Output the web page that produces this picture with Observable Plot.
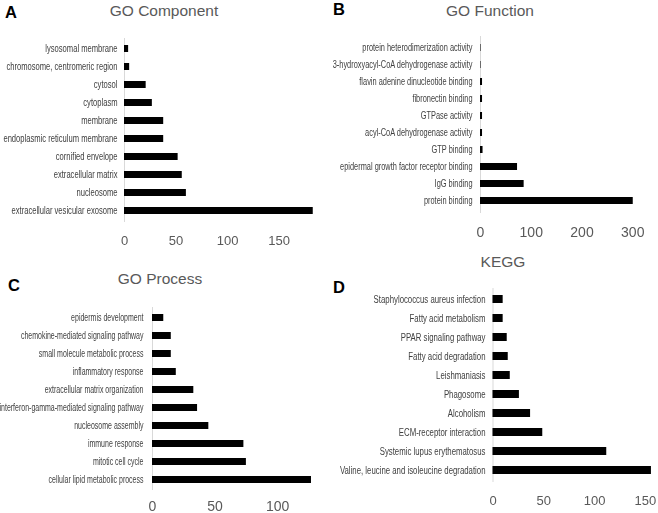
<!DOCTYPE html>
<html>
<head>
<meta charset="utf-8">
<script src="https://cdn.jsdelivr.net/npm/d3@7"></script>
<script src="https://cdn.jsdelivr.net/npm/@observablehq/plot@0.6"></script>
<style>
  html, body { margin: 0; padding: 0; background: #fff; }
  #wrap { position: relative; width: 658px; height: 513px; overflow: hidden; background: #fff; font-family: "Liberation Sans", Arial, sans-serif; }
  .panel { position: absolute; }
  .panel svg { filter: grayscale(1); }
  .title { position: absolute; transform: translateX(-50%); font-size: 15.5px; line-height: 15.5px; color: #595959; white-space: nowrap; }
  .letter { position: absolute; font-size: 16.5px; line-height: 16.5px; font-weight: bold; color: #000; }
</style>
</head>
<body>
<div id="wrap"></div>
<script>
// ---- Data ----
const titles = ["GO Component", "GO Function", "GO Process", "KEGG"];
const letters = ["A", "B", "C", "D"];

const catsA = ["lysosomal membrane", "chromosome, centromeric region", "cytosol", "cytoplasm", "membrane",
  "endoplasmic reticulum membrane", "cornified envelope", "extracellular matrix", "nucleosome", "extracellular vesicular exosome"];
const valsA = [4, 5, 21, 27, 38, 38, 52, 56, 60, 183];
const ticksA = [0, 50, 100, 150];

const catsB = ["protein heterodimerization activity", "3-hydroxyacyl-CoA dehydrogenase activity", "flavin adenine dinucleotide binding",
  "fibronectin binding", "GTPase activity", "acyl-CoA dehydrogenase activity", "GTP binding",
  "epidermal growth factor receptor binding", "IgG binding", "protein binding"];
const valsB = [1, 1, 4, 4, 4, 4, 5, 73, 86, 301];
const ticksB = [0, 100, 200, 300];

const catsC = ["epidermis development", "chemokine-mediated signaling pathway", "small molecule metabolic process",
  "inflammatory response", "extracellular matrix organization", "interferon-gamma-mediated signaling pathway",
  "nucleosome assembly", "immune response", "mitotic cell cycle", "cellular lipid metabolic process"];
const valsC = [9, 15, 15, 19, 33, 36, 45, 73, 75, 127];
const ticksC = [0, 50, 100];

const catsD = ["Staphylococcus aureus infection", "Fatty acid metabolism", "PPAR signaling pathway", "Fatty acid degradation",
  "Leishmaniasis", "Phagosome", "Alcoholism", "ECM-receptor interaction", "Systemic lupus erythematosus",
  "Valine, leucine and isoleucine degradation"];
const valsD = [10, 10, 14, 15, 17, 26, 37, 49, 112, 156];
const ticksD = [0, 50, 100, 150];

// ---- Layout ----
const panels = [
  {cats: catsA, vals: valsA, ticks: ticksA, left: 0, top: 0, width: 329, height: 250, mt: 38, mb: 28, ml: 124, mr: 8, xmax: 191,
   pin: 0.6, tickFont: 13, tickPad: 13.3, labelPad: 7, squeeze: 0.76,
   title: [164, 11], letter: [5, 12.5]},
  {cats: catsB, vals: valsB, ticks: ticksB, left: 330, top: 0, width: 328, height: 250, mt: 36, mb: 37, ml: 150, mr: 8, xmax: 335,
   pin: 0.56, tickFont: 14, tickPad: 14, labelPad: 8, squeeze: 0.74,
   title: [490, 11], letter: [333, 9.5]},
  {cats: catsC, vals: valsC, ticks: ticksC, left: 0, top: 260, width: 329, height: 253, mt: 47, mb: 23, ml: 152, mr: 8, xmax: 135,
   pin: 0.6, tickFont: 14, tickPad: 10.5, labelPad: 9, squeeze: 0.70,
   title: [160, 279], letter: [8, 285]},
  {cats: catsD, vals: valsD, ticks: ticksD, left: 330, top: 260, width: 328, height: 253, mt: 28, mb: 31, ml: 162.5, mr: 3, xmax: 160,
   pin: 0.57, tickFont: 13, tickPad: 13, labelPad: 7.5, squeeze: 0.78,
   title: [503, 262], letter: [333, 287.5]}
];

const wrap = document.getElementById("wrap");

panels.forEach((p, i) => {
  const data = p.cats.map((c, j) => ({cat: c, value: p.vals[j]}));
  const chart = Plot.plot({
    width: p.width,
    height: p.height,
    marginTop: p.mt,
    marginBottom: p.mb,
    marginLeft: p.ml,
    marginRight: p.mr,
    style: {fontFamily: "'Liberation Sans', Arial, sans-serif", overflow: "visible", background: "transparent"},
    x: {domain: [0, p.xmax]},
    y: {domain: p.cats, paddingInner: p.pin, paddingOuter: p.pin / 2},
    marks: [
      Plot.ruleX([0], {stroke: "#d9d9d9", strokeWidth: 1}),
      Plot.barX(data, {x: "value", y: "cat", fill: "#000"}),
      Plot.axisX({ticks: p.ticks, tickSize: 0, tickPadding: p.tickPad, fontSize: p.tickFont, color: "#595959", label: null, tickFormat: d => String(d)}),
      Plot.axisY({tickSize: 0, tickPadding: p.labelPad, fontSize: 10, color: "#404040", label: null})
    ]
  });
  const div = document.createElement("div");
  div.className = "panel";
  div.style.left = p.left + "px";
  div.style.top = p.top + "px";
  div.style.width = p.width + "px";
  div.style.height = p.height + "px";
  div.appendChild(chart);
  wrap.appendChild(div);

  // condensed look of the category labels
  chart.querySelectorAll('g[aria-label="y-axis tick label"] text').forEach(t => {
    const w = t.getComputedTextLength();
    t.setAttribute("textLength", (w * p.squeeze).toFixed(1));
    t.setAttribute("lengthAdjust", "spacingAndGlyphs");
  });

  const title = document.createElement("div");
  title.className = "title";
  title.textContent = titles[i];
  title.style.left = p.title[0] + "px";
  title.style.top = (p.title[1] - 7.75) + "px";
  wrap.appendChild(title);

  const letter = document.createElement("div");
  letter.className = "letter";
  letter.textContent = letters[i];
  letter.style.left = p.letter[0] + "px";
  letter.style.top = (p.letter[1] - 8.25) + "px";
  wrap.appendChild(letter);
});
</script>
</body>
</html>
